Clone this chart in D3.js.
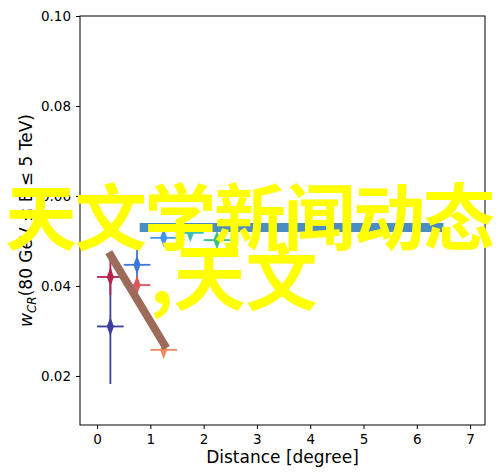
<!DOCTYPE html>
<html><head><meta charset="utf-8">
<script src="https://cdn.jsdelivr.net/npm/d3@7"></script>
<style>body{margin:0;background:#fff}</style></head>
<body><svg id="c" width="500" height="472"></svg>
<script>
// measured points with error bars
const px = [0.25, 0.25, 0.75, 0.75, 1.25, 1.25, 1.75, 2.25];
const py = [0.031, 0.042, 0.0447, 0.0402, 0.0258, 0.0507, 0.0518, 0.0502];
const pyErr = [0.0128, 0.004, 0.004, 0.002, 0.0008, 0.0012, 0.0012, 0.0008];
const pxErr = [0.25, 0.25, 0.25, 0.25, 0.25, 0.25, 0.25, 0.25];
const colors = ['#3a3f9e', '#b8214f', '#3b78d8', '#e0545c', '#f08a5d', '#3f95f0', '#3cbfb0', '#3cc080'];
const bandX = [0.8, 6.5], bandY = 0.053;
const trendX = [0.22, 1.3], trendY = [0.0475, 0.0262];
const xTicks = [0, 1, 2, 3, 4, 5, 6, 7];
const yTicks = [0.02, 0.04, 0.06, 0.08, 0.10];

const svg = d3.select('#c');
const m = {l: 80, r: 485, t: 16, b: 425};
const x = d3.scaleLinear().domain([-0.32, 7.28]).range([m.l, m.r]);
const y = d3.scaleLinear().domain([0.0091, 0.1]).range([m.b, m.t]);

svg.append('line').attr('x1', x(bandX[0])).attr('x2', x(bandX[1]))
  .attr('y1', y(bandY)).attr('y2', y(bandY)).attr('stroke', '#4a8cc4').attr('stroke-width', 9);

px.forEach((v, i) => {
  const g = svg.append('g').attr('stroke', colors[i]).attr('stroke-width', 1.8);
  g.append('line').attr('x1', x(v)).attr('x2', x(v)).attr('y1', y(py[i] - pyErr[i])).attr('y2', y(py[i] + pyErr[i]));
  g.append('line').attr('x1', x(v - pxErr[i])).attr('x2', x(v + pxErr[i])).attr('y1', y(py[i])).attr('y2', y(py[i]));
  svg.append('path').attr('d', d3.symbol(d3.symbolDiamond, 70)())
    .attr('transform', `translate(${x(v)},${y(py[i])}) scale(0.8,1.2)`).attr('fill', colors[i]);
});

svg.append('line').attr('x1', x(trendX[0])).attr('x2', x(trendX[1]))
  .attr('y1', y(trendY[0])).attr('y2', y(trendY[1])).attr('stroke', '#9c6b5a').attr('stroke-width', 8);

svg.append('rect').attr('x', m.l).attr('y', m.t).attr('width', m.r - m.l).attr('height', m.b - m.t)
  .attr('fill', 'none').attr('stroke', '#000');
const xa = svg.append('g').attr('transform', `translate(0,${m.b})`)
  .call(d3.axisBottom(x).tickValues(xTicks).tickSize(4).tickPadding(5));
const ya = svg.append('g').attr('transform', `translate(${m.l},0)`)
  .call(d3.axisLeft(y).tickValues(yTicks).tickSize(4).tickPadding(5).tickFormat(d3.format('.2f')));
[xa, ya].forEach(a => { a.select('.domain').remove(); a.selectAll('text').attr('font-size', 13.5).attr('font-family', 'DejaVu Sans').attr('fill', '#000'); });

svg.append('text').attr('x', (m.l + m.r) / 2).attr('y', 463).attr('text-anchor', 'middle')
  .attr('font-family', 'DejaVu Sans').attr('font-size', 17).text('Distance [degree]');
const yl = svg.append('text').attr('transform', `translate(32,${(m.t + m.b) / 2}) rotate(-90)`)
  .attr('text-anchor', 'middle').attr('font-family', 'DejaVu Sans').attr('font-size', 17);
yl.append('tspan').attr('font-style', 'italic').text('w');
yl.append('tspan').attr('font-style', 'italic').attr('font-size', 12).attr('dy', 4).text('CR');
yl.append('tspan').attr('dy', -4).text('(80 GeV ≤ E ≤ 5 TeV)');

const f = 'Noto Sans CJK SC';
svg.append('text').attr('x', 250).attr('y', 244).attr('text-anchor', 'middle').attr('font-family', f)
  .attr('font-size', 72).attr('font-weight', 'bold').attr('fill', '#ffff00').attr('textLength', 490).text('天文学新闻动态');
svg.append('text').attr('x', 150).attr('y', 304).attr('font-family', f)
  .attr('font-size', 72).attr('font-weight', 'bold').attr('fill', '#ffff00').text(',天文');
</script></body></html>
